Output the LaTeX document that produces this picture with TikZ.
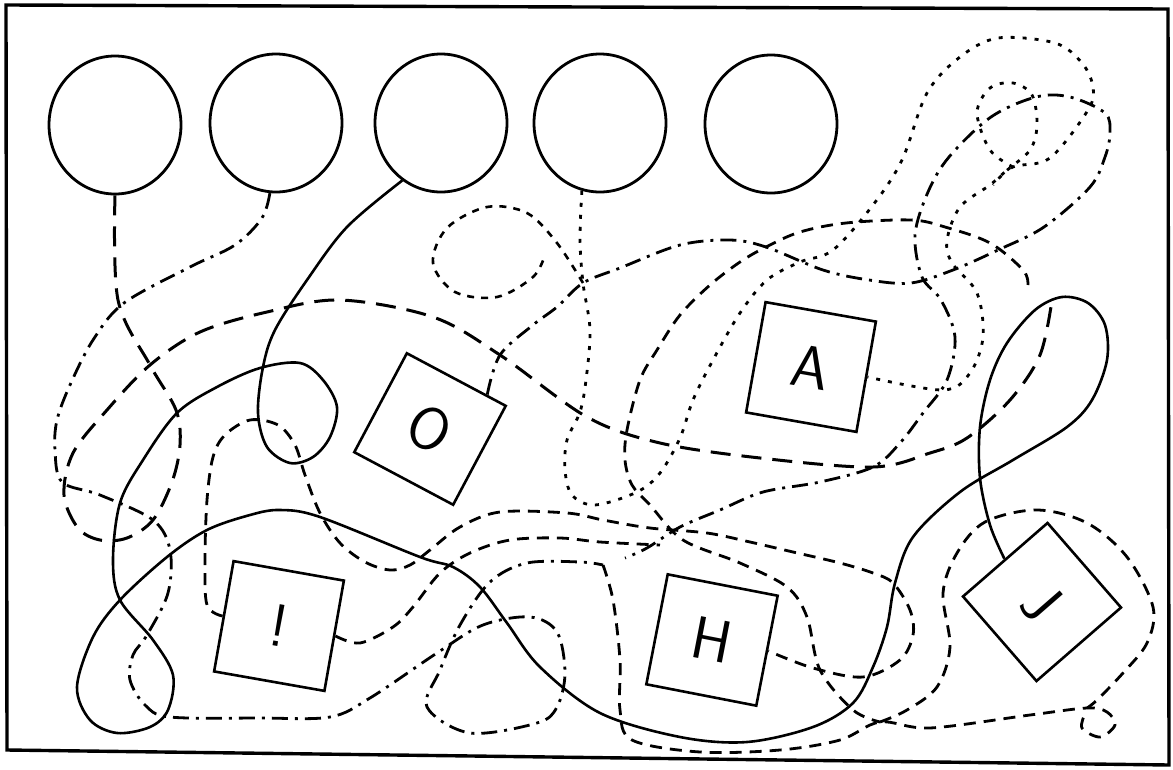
\documentclass[tikz,border=0pt]{standalone}
\usepackage{tikz}
\usetikzlibrary{shapes.geometric,calc}
\tikzset{
  mframe/.style={line width=3.4pt},
  mring/.style={ellipse, draw, line width=2.8pt, minimum width=132pt,
                minimum height=138pt, inner sep=0pt},
  mbox/.style={rectangle, draw, line width=2.6pt, minimum size=112pt,
               inner sep=0pt, font=\fontsize{60}{60}\selectfont\sffamily},
  msolid/.style={line width=2.6pt},
  mlong/.style={line width=3pt, dash pattern=on 20pt off 11pt},
  mdash/.style={line width=2.8pt, dash pattern=on 12pt off 8pt},
  mdashdot/.style={line width=2.8pt, dash pattern=on 16pt off 7pt on 3pt off 7pt},
  mdot/.style={line width=2.8pt, dash pattern=on 4pt off 8pt},
  mfine/.style={line width=2.6pt, dash pattern=on 7pt off 7pt},
}

\begin{document}
\begin{tikzpicture}[x=1pt,y=-1pt]
  \useasboundingbox (0,0) rectangle (1173,769);

  % ---- frame ----
  \draw[mframe] (6,5) -- (1168,9) -- (1169,765) -- (7,750) -- cycle;

  % ---- circles ----
  \node[mring] (c1) at (115,125) {};
  \node[mring] (c2) at (276,123) {};
  \node[mring] (c3) at (441,123) {};
  \node[mring] (c4) at (600,123) {};
  \node[mring] (c5) at (771,124) {};

  % ---- boxes ----
  \node[mbox, rotate=-28] (O) at (430,429) {O};
  \node[mbox, rotate=-10] (A) at (811,367) {A};
  \node[mbox, rotate=-10] (X) at (279,626) {!};
  \node[mbox, rotate=-11] (H) at (712,640) {H};
  \node[mbox, rotate=-49] (J) at (1042,602) {J};

  % ---- solid: c3 to J ----
  \draw[msolid] plot[smooth, tension=0.55] coordinates {
    (c3.236) (347,227) (307,280) (275,330) (263,367) (258,413) (267,447)
    (290,463) (313,457) (330,437) (337,407) (323,380) (300,363) (260,368)
    (217,387) (177,413) (143,460) (120,503) (113,560) (120,600) (153,640)
    (173,675) (168,710) (150,727) (117,733) (90,720) (77,687) (93,637)
    (120,600) (167,557) (207,530) (250,515) (280,510) (320,517) (420,557)
    (453,567) (480,587) (507,623) (540,667) (600,713) (680,737) (747,742)
    (813,727) (853,703) (873,667) (887,627) (895,583) (913,537) (960,492)
    (1013,460) (1067,427) (1092,400) (1107,360) (1105,325) (1088,303)
    (1062,297) (1035,310) (1007,343) (990,380) (980,427) (980,478)
    (990,525) (J.west)};

  % ---- long dash: c1 ----
  \draw[mlong] plot[smooth, tension=0.55] coordinates {
    (c1.south) (118,300) (150,365) (176,410) (180,445) (172,482) (153,520)
    (127,538) (100,540) (78,528) (64,495) (73,453) (107,410) (150,365)
    (200,332) (267,312) (340,300) (433,317) (500,355) (587,417) (660,443)
    (760,458) (873,467) (930,453) (967,438) (1010,400) (1040,355) (1052,300)};

  % ---- dash dot: c2 ----
  \draw[mdashdot] plot[smooth, tension=0.55] coordinates {
    (c2.265) (262,218) (235,245) (190,267) (124,303) (93,340) (70,385)
    (57,420) (55,450) (62,482) (100,495) (153,520) (170,550) (168,593)
    (147,635) (133,655) (130,680) (145,705) (170,717) (260,718) (330,717)
    (370,698) (437,653) (483,625) (530,617) (557,632) (565,673) (557,707)
    (537,723) (470,733) (427,707) (440,670) (460,625) (490,582) (527,563)
    (580,562) (603,565)};

  % ---- dash: along the bottom ----
  \draw[mdash] plot[smooth, tension=0.55] coordinates {
    (603,565) (613,600) (620,660) (620,710) (632,740) (700,752) (780,750)
    (840,740) (880,722) (930,728) (1030,715) (1087,708) (1107,712)
    (1115,725) (1100,737) (1082,728) (1085,714)};

  % ---- dash: loop round J ----
  \draw[mdash] plot[smooth, tension=0.55] coordinates {
    (880,722) (907,710) (937,687) (950,647) (943,593) (957,553) (985,522)
    (1037,510) (1087,523) (1127,557) (1153,607) (1147,643) (1123,673)
    (1097,700) (1087,708)};

  % ---- dotted: c4 to A ----
  \draw[mdot] plot[smooth, tension=0.55] coordinates {
    (c4.255) (580,240) (583,283) (590,330) (586,380) (580,412) (567,440)
    (565,470) (572,495) (595,505) (637,492) (660,473) (680,438) (693,400)
    (713,360) (740,313) (767,280) (800,262) (833,250) (873,205) (902,160)
    (927,93) (960,57) (998,38) (1055,43) (1082,63) (1093,87) (1088,110)
    (1050,158) (1013,167) (990,185) (960,207) (947,240) (952,263)
    (977,293) (983,337) (970,373) (943,390) (A.east)};

  % ---- dotted loops ----
  \draw[mfine] plot[smooth, tension=0.55] coordinates {
    (583,283) (557,243) (527,213) (487,207) (447,228) (433,263) (455,292)
    (497,297) (533,277) (545,255)};
  \draw[mdot] plot[smooth, tension=0.55] coordinates {
    (1013,167) (990,150) (977,113) (990,88) (1013,83) (1032,95) (1037,125)
    (1030,150) (1005,172) (993,185)};

  % ---- dash dot: O round the top right ----
  \draw[mdashdot] plot[smooth, tension=0.55] coordinates {
    ($(O.north)!0.6!(O.north east)$) (500,355) (533,325) (557,307)
    (583,283) (620,268) (680,245) (730,240) (766,247) (823,270) (869,280)
    (911,283) (953,270) (998,250) (1044,227) (1090,187) (1105,157)
    (1110,133) (1105,113) (1070,97) (1036,97) (991,117) (949,157)
    (928,192) (915,235) (922,277) (941,300) (955,337) (947,380) (923,413)
    (900,443) (873,467) (820,482) (763,492) (720,510) (680,527) (647,548)
    (625,558)};

  % ---- dash: cross line ----
  \draw[mdash] plot[smooth, tension=0.55] coordinates {
    (1028,285) (1023,270) (990,243) (945,227) (911,220) (846,223)
    (800,232) (766,247) (740,262) (710,285) (680,315) (657,350) (640,380)
    (627,430) (625,460) (632,485) (650,505) (683,540) (740,563) (787,587)
    (807,617) (820,670) (853,710) (880,722)};

  % ---- dash: ! to H ----
  \draw[mdash] plot[smooth, tension=0.55] coordinates {
    (X.west) (207,605) (205,560) (207,500) (213,457) (225,435) (250,420)
    (278,425) (295,445) (305,475) (320,513) (340,543) (365,562) (390,570)
    (410,565) (430,550) (460,527) (500,512) (567,513) (603,520) (650,528)
    (707,533) (750,542) (793,552) (840,563) (873,573) (893,583) (910,610)
    (913,635) (900,660) (863,677) (813,668) (H.east)};

  % ---- dash: ! right side ----
  \draw[mdash] plot[smooth, tension=0.55] coordinates {
    (X.east) (360,643) (393,627) (413,607) (440,573) (470,553) (510,540)
    (560,538) (600,542) (660,545)};

\end{tikzpicture}
\end{document}
